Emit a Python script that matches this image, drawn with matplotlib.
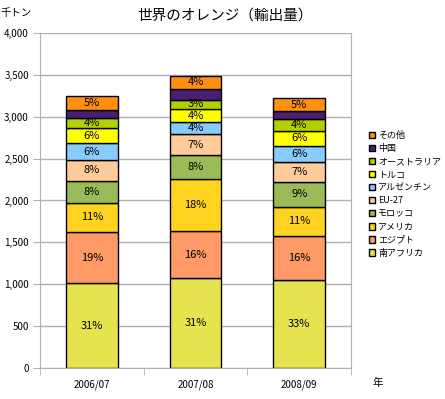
import numpy as np
import matplotlib
matplotlib.use('Agg')
import matplotlib.pyplot as plt
import matplotlib.patches as mpatches

plt.rcParams['font.family'] = ['Noto Sans CJK JP', 'DejaVu Sans']

# data (thousand tonnes), bottom to top of each stack
years = ['2006/07', '2007/08', '2008/09']
countries = ['南アフリカ', 'エジプト', 'アメリカ', 'モロッコ', 'EU-27',
             'アルゼンチン', 'トルコ', 'オーストラリア', '中国', 'その他']
south_africa = [1010, 1071, 1050]
egypt = [615, 561, 526]
usa = [345, 625, 350]
morocco = [265, 283, 299]
eu27 = [250, 250, 238]
argentina = [200, 144, 191]
turkey = [180, 155, 180]
australia = [125, 115, 136]
china = [85, 133, 95]
other = [173, 150, 155]

series = [south_africa, egypt, usa, morocco, eu27,
          argentina, turkey, australia, china, other]
colors = ['#E6E44E', '#FF9966', '#FFD320', '#9BBB59', '#FFCC99',
          '#88CCFF', '#FFFF00', '#B2D100', '#4B1F6F', '#FF8F0F']
show_pct = [True] * 10
show_pct[8] = False  # no label on 中国

fig = plt.figure(figsize=(4.45, 3.99), dpi=100)
ax = fig.add_axes([0.0899, 0.0777, 0.699, 0.8396])

x = np.arange(len(years))
totals = np.sum(series, axis=0)
bottom = np.zeros(len(years))
handles = []
for vals, col, name, lab in zip(series, colors, countries, show_pct):
    vals = np.array(vals, dtype=float)
    ax.bar(x, vals, 0.5, bottom=bottom, color=col, edgecolor='black',
           linewidth=1.0, zorder=3)
    if lab:
        for xi, v, b, t in zip(x, vals, bottom, totals):
            ax.text(xi, b + v / 2, '{0}%'.format(int(round(v / t * 100))),
                    ha='center', va='center', fontsize=8, zorder=4)
    bottom += vals
    handles.append(mpatches.Patch(facecolor=col, edgecolor='black',
                                  linewidth=1.0, label=name))

ax.set_xlim(-0.5, 2.5)
ax.set_ylim(0, 4000)
ax.set_yticks(np.arange(0, 4001, 500))
ax.set_yticklabels(['{0:,}'.format(v) for v in range(0, 4001, 500)])
ax.set_xticks(x)
ax.set_xticklabels(years)
ax.set_xticks([-0.5, 0.5, 1.5, 2.5], minor=True)
ax.tick_params(axis='x', which='major', length=0, pad=8, labelsize=7)
ax.tick_params(axis='x', which='minor', length=5, color='#b0b0b0')
ax.tick_params(axis='y', length=5, color='#b0b0b0', labelsize=7, pad=3)
ax.grid(axis='y', color='#b0b0b0', linewidth=1.0, zorder=0)
for s in ['left', 'bottom', 'right']:
    ax.spines[s].set_color('#b0b0b0')
ax.spines['top'].set_visible(False)

fig.text(0.505, 0.962, '世界のオレンジ（輸出量）', ha='center', va='center', fontsize=10.5)
fig.text(0.002, 0.968, '千トン', ha='left', va='center', fontsize=7.5)
fig.text(0.836, 0.04, '年', ha='left', va='center', fontsize=7.5)

fig.legend(handles=handles[::-1], loc='upper left', bbox_to_anchor=(0.818, 0.683),
           frameon=False, fontsize=6.5, handlelength=0.7, handleheight=0.7,
           handletextpad=0.35, labelspacing=0.45, borderpad=0)

fig.savefig('out.png', dpi=100)
